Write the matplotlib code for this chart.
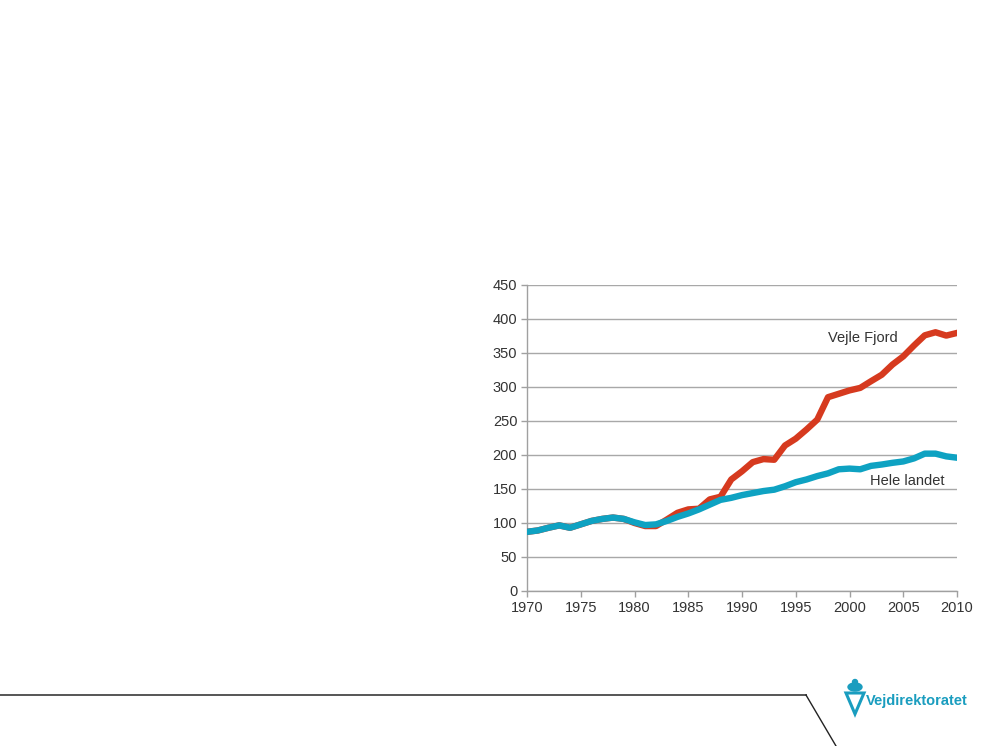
import matplotlib
matplotlib.use("Agg")
import matplotlib.pyplot as plt
from matplotlib.lines import Line2D
from matplotlib.patches import Polygon, Ellipse

years = list(range(1970, 2011))
hele_landet = [87, 89, 93, 96.5, 93, 98, 103, 106, 108, 106, 101, 97, 98, 103, 109, 114,
               120, 127, 134, 137, 141, 144, 147, 149, 154, 160, 164, 169, 173, 179, 180,
               179, 184, 186, 188.5, 190.5, 195, 202, 202, 198, 196]
vejle_fjord = [87, 89, 93, 96.5, 93, 98, 103, 106, 108, 106, 100, 95.5, 95.5, 105, 115, 120,
               121, 134.7, 138.6, 164, 176, 189.5, 194, 193, 214, 224, 237.5, 252, 285, 290, 295,
               298.7, 308.5, 318, 333, 345, 361, 376, 380.5, 375.6, 379.5]
y_ticks = [0, 50, 100, 150, 200, 250, 300, 350, 400, 450]
x_ticks = [1970, 1975, 1980, 1985, 1990, 1995, 2000, 2005, 2010]

plt.rcParams['font.family'] = ['Liberation Sans', 'DejaVu Sans']

W, H = 997, 746
fig = plt.figure(figsize=(W / 100, H / 100), dpi=100)

ax = fig.add_axes([527 / W, 1 - 591 / H, (957 - 527) / W, (591 - 285) / H])
red = "#d63a1f"
blue = "#0ea2c2"
ax.plot(years, vejle_fjord, color=red, lw=4.6, solid_joinstyle='round', zorder=3)
ax.plot(years, hele_landet, color=blue, lw=4.6, solid_joinstyle='round', zorder=4)

ax.set_xlim(1970, 2010)
ax.set_ylim(0, 450)
ax.set_xticks(x_ticks)
ax.set_yticks(y_ticks)
ax.yaxis.grid(True, color="#a8a8a8", lw=1.0)
ax.set_axisbelow(True)
for s in ['top', 'right']:
    ax.spines[s].set_visible(False)
for s in ['left', 'bottom']:
    ax.spines[s].set_color("#a0a0a0")
    ax.spines[s].set_linewidth(1.0)
ax.tick_params(axis='both', colors="#a0a0a0", labelcolor="#333333", labelsize=10.5,
               length=4, width=1.0, direction='out')
ax.tick_params(axis='x', pad=3)
ax.tick_params(axis='y', pad=3)

ax.text(2001.2, 372, "Vejle Fjord", fontsize=10.5, color="#333333", ha='center', va='center')
ax.text(2005.4, 161.5, "Hele landet", fontsize=10.5, color="#333333", ha='center', va='center')

# bottom decoration
def px(x, y):
    return (x / W, 1 - y / H)

fig.add_artist(Line2D([0, 806 / W], [1 - 695 / H, 1 - 695 / H], color="#555555", lw=1.4,
                      transform=fig.transFigure))
fig.add_artist(Line2D([806 / W, 836 / W], [1 - 695 / H, 1 - 746 / H], color="#222222", lw=1.0,
                      transform=fig.transFigure))

# logo
teal = "#1a9dbf"
fig.add_artist(Polygon([px(846, 693), px(864, 693), px(855, 714)], closed=True, fill=False,
                       edgecolor=teal, lw=2.2, transform=fig.transFigure))
fig.add_artist(Ellipse(px(855, 687), 14 / W, 8 / H, color=teal, transform=fig.transFigure))
fig.add_artist(Ellipse(px(855, 682), 5 / W, 5 / H, color=teal, transform=fig.transFigure))
fig.text(866 / W, 1 - 701 / H, "Vejdirektoratet", fontsize=10.5, color=teal, fontweight='bold',
         ha='left', va='center')

fig.savefig("out.png", dpi=100, facecolor="white")
